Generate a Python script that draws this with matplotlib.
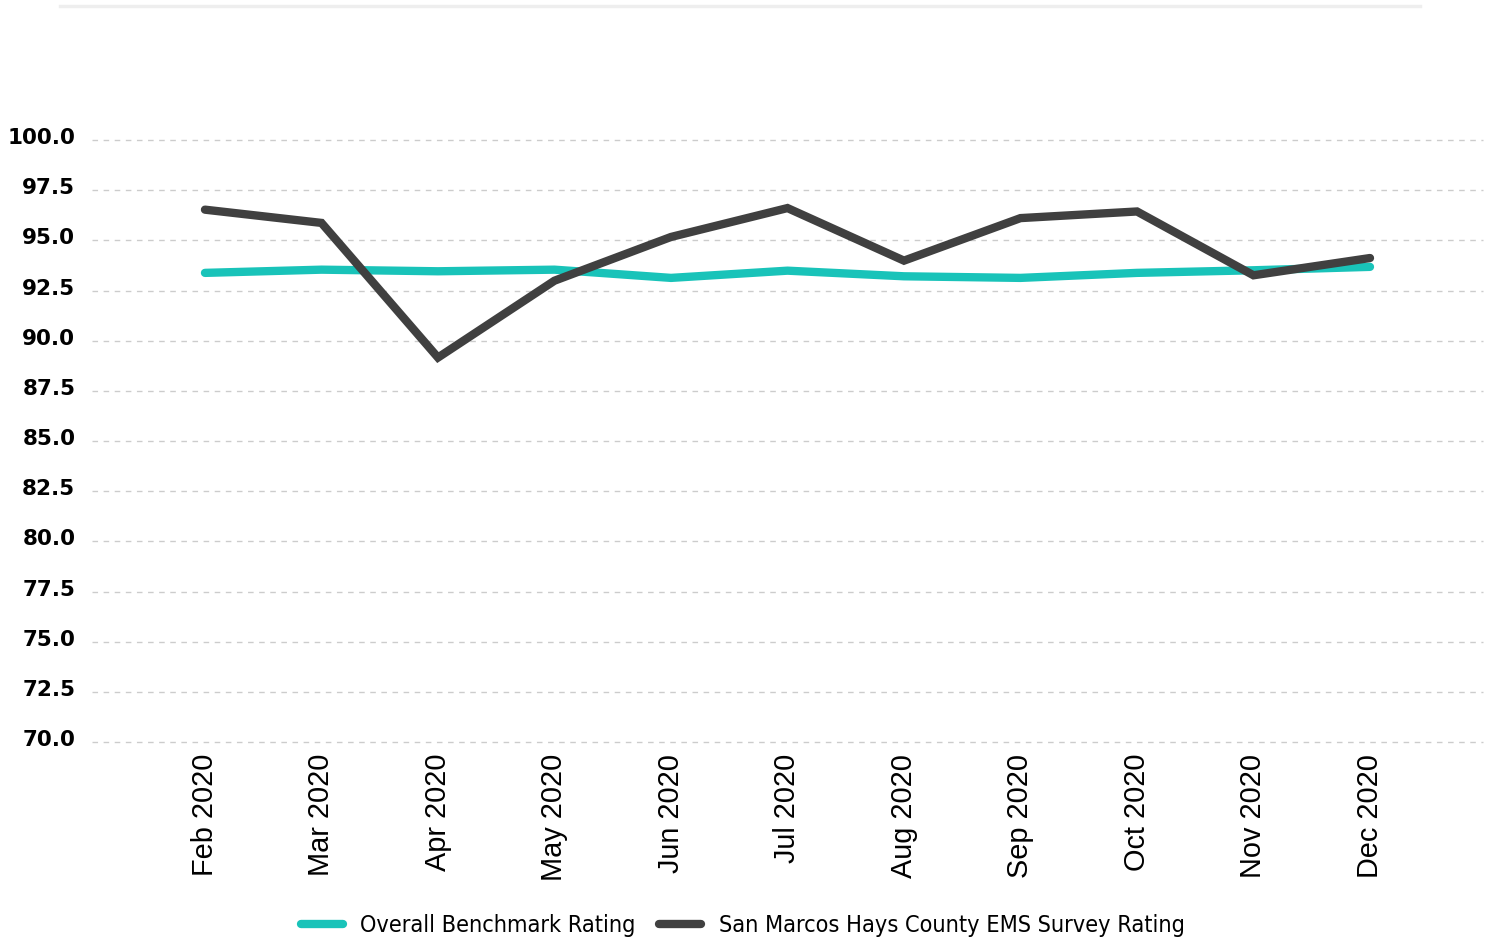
import numpy as np
import matplotlib
matplotlib.use("Agg")
from matplotlib import pyplot as plt
from matplotlib.lines import Line2D
from matplotlib.transforms import ScaledTranslation

months = ["Feb 2020", "Mar 2020", "Apr 2020", "May 2020", "Jun 2020", "Jul 2020",
          "Aug 2020", "Sep 2020", "Oct 2020", "Nov 2020", "Dec 2020"]
benchmark = [93.38, 93.54, 93.46, 93.54, 93.13, 93.49, 93.21, 93.13, 93.38, 93.51, 93.68]
ems_rating = [96.53, 95.87, 89.16, 92.99, 95.17, 96.61, 93.99, 96.11, 96.44, 93.26, 94.12]
y_ticks = [70.0, 72.5, 75.0, 77.5, 80.0, 82.5, 85.0, 87.5, 90.0, 92.5, 95.0, 97.5, 100.0]

teal = "#19c3b9"
dark = "#404040"

fig = plt.figure(figsize=(14.93, 9.43), dpi=100)
ax = fig.add_axes([0.0616, 0.2131, 0.9317, 0.6384])

x = np.arange(len(months))
ax.plot(x, benchmark, color=teal, lw=6, solid_capstyle="round", solid_joinstyle="miter", zorder=3)
ax.plot(x, ems_rating, color=dark, lw=6, solid_capstyle="round", solid_joinstyle="miter", zorder=4)

ax.set_xlim(-0.97, 10.97)
ax.set_ylim(70, 100)
ax.set_yticks(y_ticks)
ax.set_yticklabels(["%.1f" % v for v in y_ticks], fontsize=15.5, fontweight="bold",
                   family="DejaVu Sans")
ax.set_xticks(x)
ax.set_xticklabels(months, rotation=90, fontsize=20.8, family="Liberation Sans")
ax.tick_params(axis="both", length=0)
ax.tick_params(axis="y", pad=12)
ax.tick_params(axis="x", pad=8.5)
# y labels sit a little above their grid lines
lift = ScaledTranslation(0, 4 / 100, fig.dpi_scale_trans)
for lab in ax.get_yticklabels():
    lab.set_transform(lab.get_transform() + lift)
for s in ax.spines.values():
    s.set_visible(False)
ax.yaxis.grid(True, ls=(0, (4, 4)), color="#cccccc", lw=1)
for gl in ax.get_ygridlines():
    gl.set_clip_on(False)
ax.set_axisbelow(True)

# thin rule across the top
fig.add_artist(Line2D([60 / 1493, 1420 / 1493], [1 - 6 / 943, 1 - 6 / 943],
                      color="#eeeeee", lw=2.5))

handles = [Line2D([], [], color=teal, lw=6, solid_capstyle="round"),
           Line2D([], [], color=dark, lw=6, solid_capstyle="round")]
fig.legend(handles, ["Overall Benchmark Rating", "San Marcos Hays County EMS Survey Rating"],
           loc="center", bbox_to_anchor=(0.4975, 0.0185), ncol=2, frameon=False,
           prop={"family": "DejaVu Sans", "stretch": "condensed", "size": 16.8},
           handlelength=1.8, handletextpad=0.75, columnspacing=1.0)

fig.savefig("out.png", dpi=100)
